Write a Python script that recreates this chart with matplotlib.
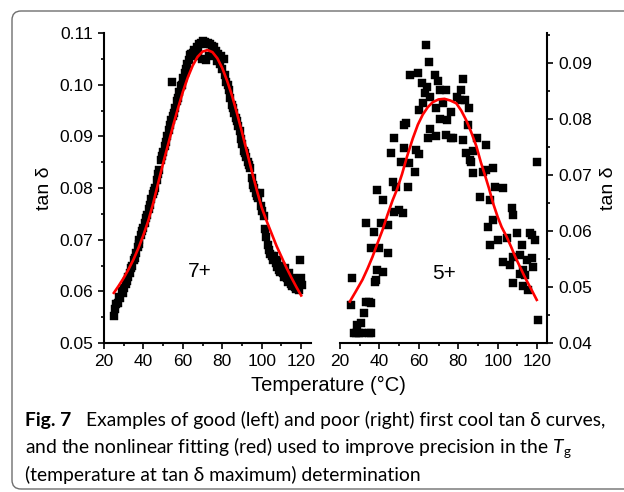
import matplotlib
matplotlib.use('Agg')
import matplotlib.pyplot as plt
from matplotlib.ticker import MultipleLocator, FormatStrFormatter
from matplotlib.patches import FancyBboxPatch

# ---------------- data ----------------
# sample 7+ (left panel): measured tan delta
t7 = [25, 25.5, 26, 27, 27.5, 28, 29, 29.5, 30, 31, 31.5, 32, 33, 33.5, 34, 35, 35.5, 36,
      37, 37.5, 38, 39, 39.5, 40, 41, 41.5, 42, 43, 43.5, 44, 45, 45.5, 46, 47, 47.5, 48,
      49, 49.5, 50, 51, 51.5, 52, 53, 53.5, 54, 54.5, 55, 55.5, 56, 57, 57.5, 58, 59, 59.5,
      60, 61, 61.5, 62, 63, 63.5, 64, 65, 65.5, 66, 67, 67.5, 68, 69, 69.5, 70, 71, 71.5,
      72, 73, 73.5, 74, 75, 75.5, 76, 77, 77.5, 78, 79, 79.5, 80, 81, 81.5, 82, 83, 83.5,
      84, 85, 85.5, 86, 87, 87.5, 88, 89, 89.5, 90, 91, 91.5, 92, 93, 93.5, 94, 95, 95.5,
      96, 97, 97.5, 98, 99, 99.5, 100, 101, 101.5, 102, 103, 103.5, 104, 105, 105.5, 106,
      107, 107.5, 108, 109, 109.5, 110, 111, 111.5, 112, 113, 113.5, 114, 115, 115.5, 116,
      117, 117.5, 118, 119, 119.5, 120, 120.3]
v7 = [0.0552, 0.0565, 0.0575, 0.0578, 0.0590, 0.0588, 0.0600, 0.0596, 0.0606, 0.0615, 0.0620,
      0.0628, 0.0635, 0.0645, 0.0650, 0.0660, 0.0665, 0.0675, 0.0685, 0.0692, 0.0700, 0.0710,
      0.0716, 0.0722, 0.0732, 0.0742, 0.0748, 0.0760, 0.0768, 0.0778, 0.0788, 0.0795, 0.0800,
      0.0815, 0.0828, 0.0835, 0.0855, 0.0862, 0.0870, 0.0882, 0.0890, 0.0900, 0.0912, 0.0922,
      0.0932, 0.1005, 0.0940, 0.0945, 0.0955, 0.0968, 0.0975, 0.0985, 0.0998, 0.1000, 0.1012,
      0.1022, 0.1030, 0.1040, 0.1048, 0.1058, 0.1060, 0.1062, 0.1068, 0.1055, 0.1072, 0.1065,
      0.1078, 0.1080, 0.1050, 0.1085, 0.1082, 0.1048, 0.1078, 0.1080, 0.1055, 0.1078, 0.1075,
      0.1060, 0.1072, 0.1065, 0.1045, 0.1060, 0.1040, 0.1055, 0.1030, 0.1050, 0.1018, 0.1005,
      0.1000, 0.0990, 0.0975, 0.0960, 0.0955, 0.0945, 0.0935, 0.0930, 0.0920, 0.0910, 0.0895,
      0.0885, 0.0872, 0.0868, 0.0860, 0.0850, 0.0845, 0.0838, 0.0820, 0.0805, 0.0800, 0.0790,
      0.0785, 0.0780, 0.0790, 0.0765, 0.0755, 0.0745, 0.0720, 0.0705, 0.0690, 0.0680, 0.0672,
      0.0668, 0.0660, 0.0668, 0.0655, 0.0648, 0.0660, 0.0642, 0.0638, 0.0650, 0.0635, 0.0628,
      0.0645, 0.0625, 0.0618, 0.0635, 0.0615, 0.0610, 0.0625, 0.0608, 0.0605, 0.0620, 0.0602,
      0.0660, 0.0625, 0.0612]

# sample 7+ nonlinear fit (red)
fit7_t = [25, 27.5, 30, 32.5, 35, 37.5, 40, 42.5, 45, 47.5, 50, 52.5, 55, 57.5, 60, 62.5, 65,
          67.5, 70, 72.5, 75, 77.5, 80, 82.5, 85, 87.5, 90, 92.5, 95, 97.5, 100, 102.5, 105,
          107.5, 110, 112.5, 115, 117.5, 120]
fit7_v = [0.0597, 0.0611, 0.0626, 0.0643, 0.0662, 0.0684, 0.0709, 0.0737, 0.0771, 0.0810,
          0.0848, 0.0884, 0.0920, 0.0954, 0.0986, 0.1014, 0.1037, 0.1054, 0.1064, 0.1067,
          0.1063, 0.1051, 0.1032, 0.1007, 0.0978, 0.0944, 0.0908, 0.0870, 0.0832, 0.0796,
          0.0762, 0.0736, 0.0712, 0.0688, 0.0667, 0.0646, 0.0627, 0.0609, 0.0592]

# sample 5+ (right panel): measured tan delta
t5 = [25.5, 26.3, 27.1, 28.0, 28.8, 29.7, 30.6, 31.4, 32.2, 33.1, 34.8, 34.8, 35.7, 35.7,
      33.1, 35.7, 37.3, 37.7, 38.2, 39.0, 39.0, 39.9, 40.8, 41.6, 41.6, 44.1, 44.1, 45.9,
      46.7, 47.6, 47.6, 48.4, 50.1, 51.0, 51.8, 52.7, 52.7, 53.5, 54.3, 55.2, 55.7, 57.8,
      58.6, 59.4, 60.3, 60.3, 61.7, 62.0, 62.9, 63.4, 64.0, 64.6, 64.9, 65.4, 65.4, 68.0,
      68.8, 68.8, 69.6, 70.5, 70.5, 72.2, 73.9, 74.0, 74.4, 76.2, 76.2, 77.3, 79.2, 80.9,
      81.6, 82.4, 82.4, 83.3, 84.1, 85.0, 85.5, 85.8, 86.7, 87.5, 87.5, 89.6, 90.9, 92.6,
      94.3, 94.3, 95.2, 96.0, 96.1, 97.7, 97.7, 98.6, 100.3, 102.8, 102.8, 104.5, 106.2,
      107.1, 107.9, 107.9, 107.9, 109.6, 111.3, 111.3, 112.2, 113.0, 113.0, 113.9, 114.7,
      115.6, 116.4, 117.3, 117.3, 118.1, 119.0, 119.8, 120.2]
v5 = [0.0468, 0.0516, 0.0417, 0.0417, 0.0432, 0.0417, 0.0435, 0.0417, 0.0453, 0.0474,
      0.0474, 0.0417, 0.0471, 0.0417, 0.0614, 0.0569, 0.0599, 0.0509, 0.0513, 0.0530,
      0.0673, 0.0569, 0.0614, 0.0527, 0.0655, 0.0560, 0.0611, 0.0739, 0.0688, 0.0634,
      0.0766, 0.0679, 0.0638, 0.0724, 0.0632, 0.0789, 0.0748, 0.0792, 0.0679, 0.0721,
      0.0879, 0.0706, 0.0745, 0.0883, 0.0816, 0.0738, 0.0865, 0.0829, 0.0846, 0.0932,
      0.0858, 0.0766, 0.0901, 0.0783, 0.0840, 0.0879, 0.0819, 0.0770, 0.0867, 0.0852,
      0.0800, 0.0828, 0.0771, 0.0852, 0.0798, 0.0813, 0.0766, 0.0766, 0.0840, 0.0834,
      0.0852, 0.0871, 0.0763, 0.0834, 0.0739, 0.0789, 0.0819, 0.0727, 0.0724, 0.0703,
      0.0742, 0.0766, 0.0661, 0.0706, 0.0754, 0.0709, 0.0608, 0.0655, 0.0575, 0.0712,
      0.0620, 0.0679, 0.0584, 0.0676, 0.0545, 0.0587, 0.0539, 0.0641, 0.0629, 0.0554,
      0.0507, 0.0596, 0.0557, 0.0524, 0.0575, 0.0530, 0.0501, 0.0521, 0.0548, 0.0495,
      0.0596, 0.0593, 0.0551, 0.0536, 0.0584, 0.0724, 0.0441]

# sample 5+ nonlinear fit (red)
fit5_t = [25, 28, 31.4, 34, 36.5, 39, 41.6, 44, 46.7, 49, 51.5, 54, 56.9, 59.5, 62, 64.5, 67,
          70, 73, 76, 79, 81.5, 84, 86.5, 89.2, 91.5, 93.5, 95.5, 97.7, 100, 102, 104.5, 107,
          109, 111.3, 114, 117, 119.8]
fit5_v = [0.0474, 0.0492, 0.0513, 0.0533, 0.0554, 0.0578, 0.0602, 0.0628, 0.0655, 0.0675,
          0.0702, 0.0733, 0.0765, 0.0790, 0.0808, 0.0821, 0.0830, 0.0835, 0.0836, 0.0833,
          0.0828, 0.0815, 0.0798, 0.0777, 0.0751, 0.0722, 0.0700, 0.0677, 0.0649, 0.0625,
          0.0607, 0.0590, 0.0570, 0.0553, 0.0536, 0.0516, 0.0496, 0.0477]

panel_labels = ['7+', '5+']
x_label = 'Temperature (°C)'
y_label = 'tan δ'
caption_bold = 'Fig. 7'
caption_lines = ['Examples of good (left) and poor (right) first cool tan δ curves,',
                 'and the nonlinear fitting (red) used to improve precision in the $T_\\mathrm{g}$',
                 '(temperature at tan δ maximum) determination']

# ---------------- figure ----------------
plt.rcParams['font.family'] = ['Liberation Sans', 'DejaVu Sans']
plt.rcParams['mathtext.fontset'] = 'custom'
plt.rcParams['mathtext.rm'] = 'Lato'
plt.rcParams['mathtext.it'] = 'Lato:italic'

W, H = 624, 492
fig = plt.figure(figsize=(W / 100, H / 100), dpi=100)


def fx(px):
    return px / W


def fy(py):
    return 1 - py / H


axL = fig.add_axes([fx(104), fy(343), (311 - 104) / W, (343 - 33) / H])
axR = fig.add_axes([fx(340), fy(343), (547 - 340) / W, (343 - 33) / H])

tick_fs = 12.5
for ax in (axL, axR):
    ax.set_xlim(20, 125)
    ax.xaxis.set_major_locator(MultipleLocator(20))
    ax.xaxis.set_minor_locator(MultipleLocator(10))
    ax.yaxis.set_major_locator(MultipleLocator(0.01))
    ax.yaxis.set_minor_locator(MultipleLocator(0.005))
    ax.yaxis.set_major_formatter(FormatStrFormatter('%.2f'))
    ax.tick_params(which='both', direction='out', width=1.2, labelsize=tick_fs)
    ax.tick_params(which='major', length=4.5)
    ax.tick_params(which='minor', length=2.5)
    ax.spines['top'].set_visible(False)
    for s in ax.spines.values():
        s.set_linewidth(1.5)

axL.set_ylim(0.05, 0.11)
axL.spines['right'].set_visible(False)
axR.set_ylim(0.04, 0.04 + 310 / 5600)
axR.spines['left'].set_visible(False)
axR.yaxis.tick_right()
axR.yaxis.set_label_position('right')

marker_kw = dict(ls='none', marker='s', ms=5.6, mfc='black', mec='black', mew=0.3, zorder=2)
axL.plot(t7, v7, **marker_kw)
axL.plot(fit7_t, fit7_v, color='#ff0000', lw=1.9, zorder=3)
axR.plot(t5, v5, **marker_kw)
axR.plot(fit5_t, fit5_v, color='#ff0000', lw=1.9, zorder=3)

axL.text(68.7, 0.0638, panel_labels[0], fontsize=15, ha='center', va='center')
axR.text(73, 0.0524, panel_labels[1], fontsize=15, ha='center', va='center')

axL.set_ylabel(y_label, fontsize=14, labelpad=4)
axR.set_ylabel(y_label, fontsize=14, labelpad=6)
fig.text(fx(328), fy(385), x_label, fontsize=14.5, ha='center', va='center')

# frame with rounded corners
frame = FancyBboxPatch((0.12, 0.03), 6.6, 4.78, boxstyle='round,pad=0,rounding_size=0.09',
                       transform=fig.dpi_scale_trans, fill=False, ec='#6e6e6e', lw=1.0,
                       clip_on=False)
fig.add_artist(frame)

# caption
cap_fam = ['Lato', 'DejaVu Sans']
base_fs = 14
tb = fig.text(fx(25), fy(426), caption_bold, fontsize=base_fs, fontweight='bold',
              family=cap_fam, va='baseline')
t1 = fig.text(fx(90), fy(426), caption_lines[0], fontsize=base_fs, family=cap_fam,
              va='baseline')
fig.canvas.draw()
r = fig.canvas.get_renderer()
w1 = t1.get_window_extent(r).width
scale = (612 - 90) / w1
cap_fs = base_fs * scale
tb.set_fontsize(cap_fs)
t1.set_fontsize(cap_fs)
fig.canvas.draw()
bx1 = tb.get_window_extent(r).x1
t1.set_x((bx1 + 15) / W)
fig.text(fx(25), fy(453.5), caption_lines[1], fontsize=cap_fs, family=cap_fam, va='baseline')
fig.text(fx(25), fy(481), caption_lines[2], fontsize=cap_fs, family=cap_fam, va='baseline')

fig.savefig('out.png', dpi=100)
